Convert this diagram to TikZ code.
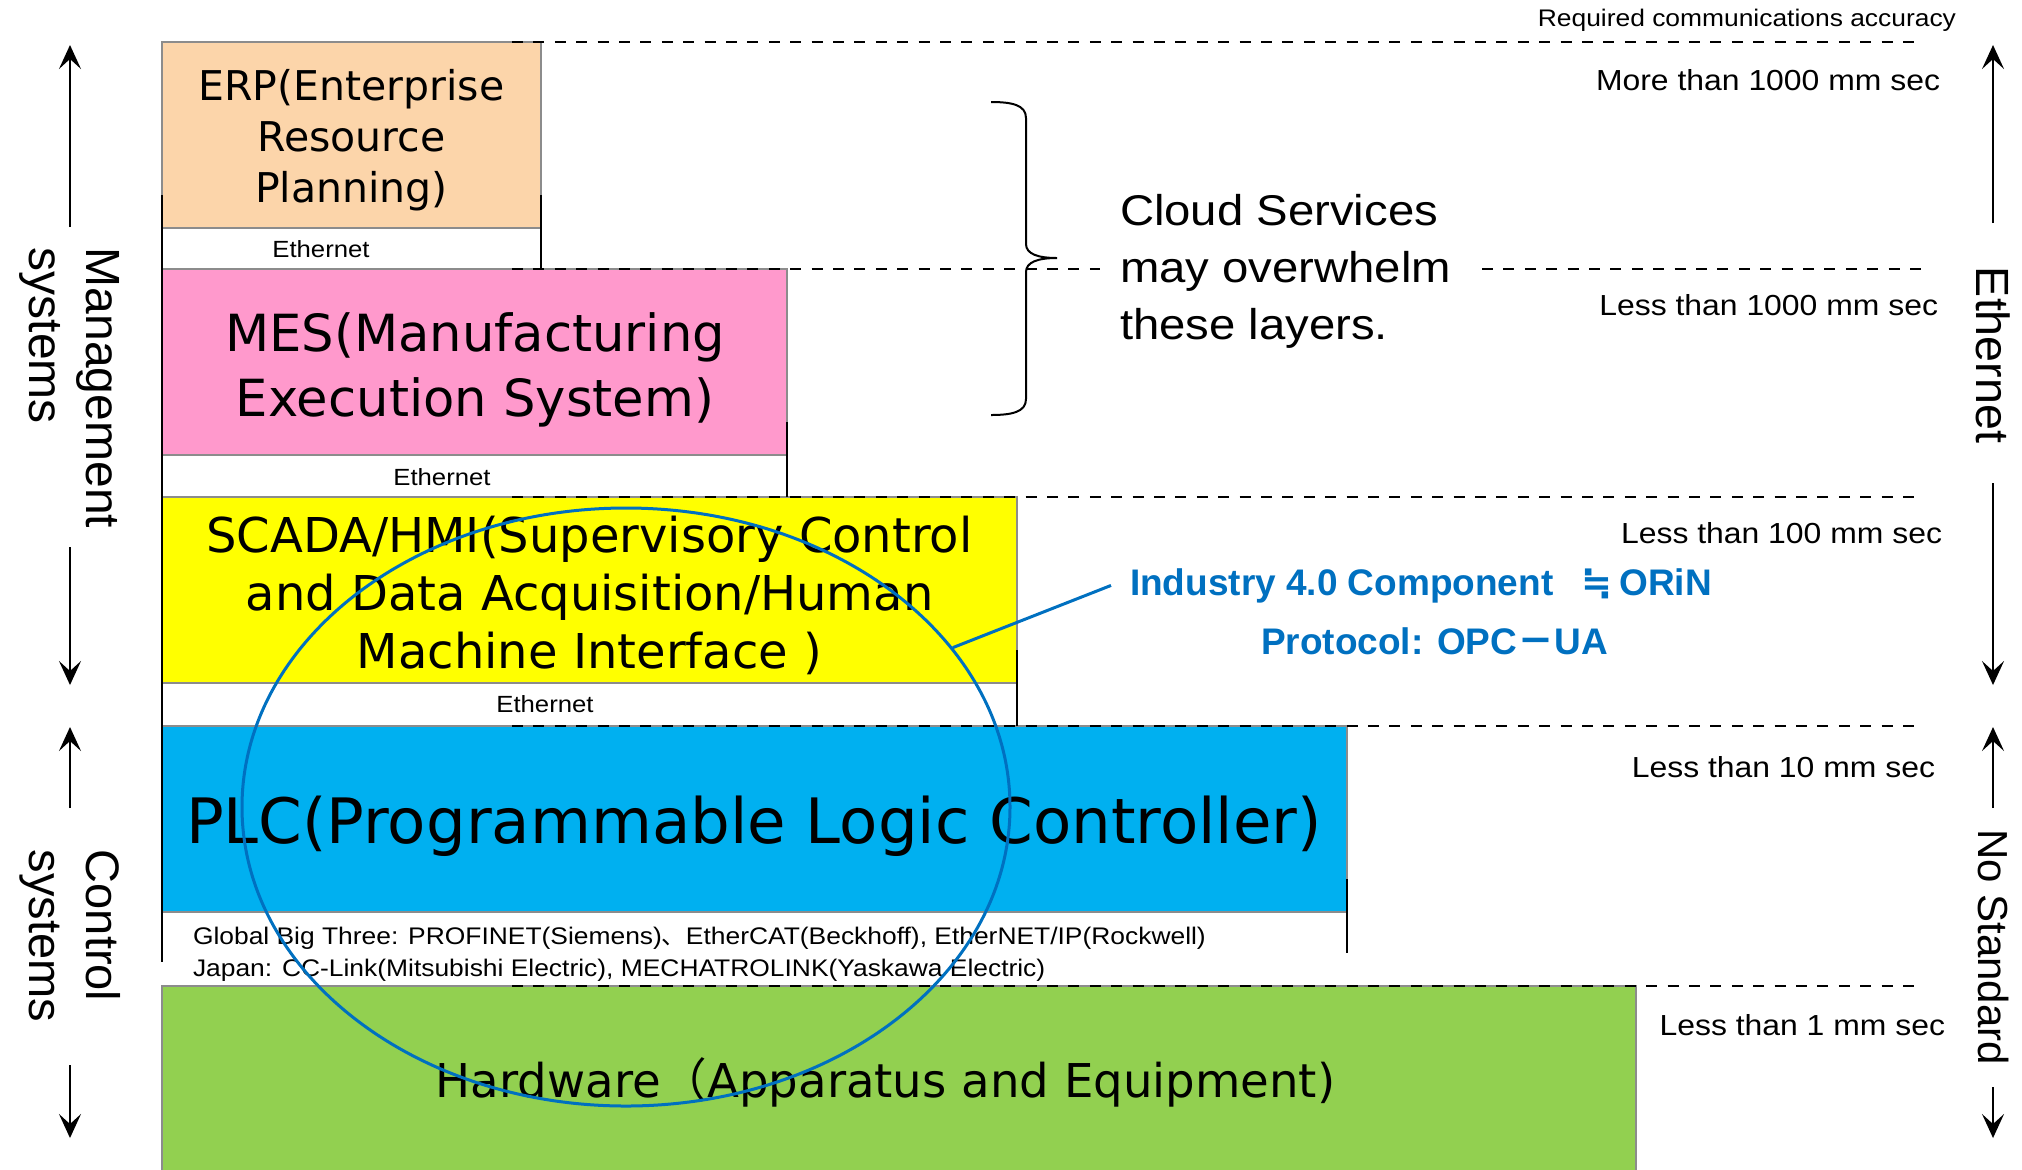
\documentclass[tikz,border=0pt]{standalone}
\usepackage{fontspec}
\setmainfont{Liberation Sans}
\newfontfamily\boxfont{DejaVu Sans}
\newfontfamily\labfont[FakeStretch=1.1]{Liberation Sans}
\newfontfamily\cjk{Noto Sans CJK JP}
\usetikzlibrary{arrows.meta,shapes.geometric}

\definecolor{erpc}{RGB}{252,213,170}
\definecolor{mesc}{RGB}{255,153,204}
\definecolor{scadac}{RGB}{255,255,0}
\definecolor{plcc}{RGB}{0,176,240}
\definecolor{hwc}{RGB}{146,208,80}
\definecolor{edgegray}{RGB}{140,140,140}
\definecolor{orinblue}{RGB}{0,112,192}

\newcommand{\fs}[2]{\fontsize{#1}{#2}\selectfont}

\tikzset{
  layerbox/.style={draw=edgegray, line width=1pt},
  framepart/.style={draw=black, line width=1pt},
  guide/.style={draw=black, line width=1pt, dash pattern=on 5.5pt off 5.2pt},
  axisarrow/.style={draw=black, line width=1pt, -{Stealth[length=12pt,width=11pt,inset=5pt]}},
  txt/.style={inner sep=0pt, outer sep=0pt},
  boxlabel/.style={txt, align=center},
  sidetext/.style={txt, rotate=-90, align=left},
  ratelabel/.style={txt, anchor=base east, font=\labfont\fs{14.5pt}{17pt}},
  netlabel/.style={txt, anchor=base, font=\labfont\fs{11.7pt}{14pt}},
  buslabel/.style={txt, anchor=base west, font=\labfont\fs{12pt}{14pt}},
  bluetext/.style={txt, anchor=base west, text=orinblue, font=\bfseries\fs{18.5pt}{22pt}},
}

\begin{document}
\begin{tikzpicture}[x=0.5pt, y=-0.5pt]
\useasboundingbox (0,0) rectangle (2022,1169);

% ---- layers of the automation pyramid ----
\path[layerbox, fill=erpc]   (162,42)  rectangle (541,228);
\path[layerbox, fill=mesc]   (162,269) rectangle (787,455);
\path[layerbox, fill=scadac] (162,497) rectangle (1017,683);
\path[layerbox, fill=plcc]   (162,726) rectangle (1347,912);
\path[layerbox, fill=hwc]    (162,986) rectangle (1636,1190);

% ---- table frame pieces around the network bands ----
\draw[framepart] (162,195)  -- (162,962);
\draw[framepart] (541,195)  -- (541,269);
\draw[framepart] (787,422)  -- (787,497);
\draw[framepart] (1017,650) -- (1017,726);
\draw[framepart] (1347,879) -- (1347,953);

% ---- dashed level boundaries ----
\draw[guide] (512,42)  -- (1922,42);
\draw[guide] (512,269) -- (1100,269);
\draw[guide] (1482,269) -- (1922,269);
\draw[guide] (512,497) -- (1922,497);
\draw[guide] (512,726) -- (1922,726);
\draw[guide] (512,986) -- (1922,986);

% ---- layer names ----
\node[boxlabel, font=\boxfont\fs{20.5pt}{25.5pt}] (erp) at (351.5,139.7)
  {ERP(Enterprise\\Resource\\Planning)};
\node[boxlabel, font=\boxfont\fs{25.6pt}{32.5pt}] (mes) at (475,370)
  {MES(Manufacturing\\Execution System)};
\node[boxlabel, font=\boxfont\fs{24pt}{29pt}] (scada) at (589.5,595)
  {SCADA/HMI(Supervisory Control\\and Data Acquisition/Human\\Machine Interface )};
\node[txt, anchor=base, font=\boxfont\fs{31.3pt}{37pt}] (plc) at (754,843)
  {PLC(Programmable Logic Controller)};
\node[txt, anchor=base, font=\boxfont\fs{23.3pt}{28pt}] (hw) at (885.5,1097)
  {Hardware{\cjk （}Apparatus and Equipment)};

% ---- network bands ----
\node[netlabel] (net1) at (321,257) {Ethernet};
\node[netlabel] (net2) at (442,485) {Ethernet};
\node[netlabel] (net3) at (545,712) {Ethernet};
\node[buslabel] (bus1) at (193,944)
  {Global Big Three: PROFINET(Siemens){\cjk 、}EtherCAT(Beckhoff), EtherNET/IP(Rockwell)};
\node[buslabel] (bus2) at (193,976)
  {Japan: CC-Link(Mitsubishi Electric), MECHATROLINK(Yaskawa Electric)};

% ---- response time column ----
\node[txt, anchor=base east, font=\labfont\fs{12pt}{14pt}] (req) at (1956,26)
  {Required communications accuracy};
\node[ratelabel] (r1) at (1940,90)   {More than 1000 mm sec};
\node[ratelabel] (r2) at (1938,315)  {Less than 1000 mm sec};
\node[ratelabel] (r3) at (1942,543)  {Less than 100 mm sec};
\node[ratelabel] (r4) at (1935,777)  {Less than 10 mm sec};
\node[ratelabel] (r5) at (1945,1035) {Less than 1 mm sec};

% ---- cloud note with its brace ----
\node[txt, anchor=north west, align=left, font=\labfont\fs{21.5pt}{28.5pt}] (cloud) at (1120,194)
  {Cloud Services\\may overwhelm\\these layers.};
\draw[line width=1pt] (991,102) .. controls (1012,102) and (1026,105) .. (1026,118)
  -- (1026,244) .. controls (1026,254) and (1038,258) .. (1057,258)
  .. controls (1038,258) and (1026,262) .. (1026,272)
  -- (1026,399) .. controls (1026,412) and (1012,415) .. (991,415);

% ---- side axes ----
\node[sidetext, font=\fs{24pt}{28.5pt}] (mgmt) at (70,388) {Management\\systems};
\node[sidetext, font=\fs{23.5pt}{28.5pt}] (ctrl) at (70,936) {Control\\systems};
\node[sidetext, font=\fs{23.3pt}{28pt}] (eth) at (1993,355) {Ethernet};
\node[sidetext, font=\fs{21pt}{25pt}] (nostd) at (1993,947) {No Standard};

\coordinate (lu0) at (70,227);  \coordinate (lu1) at (70,45);
\coordinate (ld0) at (70,547);  \coordinate (ld1) at (70,685);
\coordinate (cu0) at (70,808);  \coordinate (cu1) at (70,727);
\coordinate (cd0) at (70,1065); \coordinate (cd1) at (70,1138);
\coordinate (eu0) at (1993,223);  \coordinate (eu1) at (1993,45);
\coordinate (ed0) at (1993,483);  \coordinate (ed1) at (1993,685);
\coordinate (nu0) at (1993,808);  \coordinate (nu1) at (1993,727);
\coordinate (nd0) at (1993,1087); \coordinate (nd1) at (1993,1138);
\draw[axisarrow] (lu0) -- (lu1);
\draw[axisarrow] (ld0) -- (ld1);
\draw[axisarrow] (cu0) -- (cu1);
\draw[axisarrow] (cd0) -- (cd1);
\draw[axisarrow] (eu0) -- (eu1);
\draw[axisarrow] (ed0) -- (ed1);
\draw[axisarrow] (nu0) -- (nu1);
\draw[axisarrow] (nd0) -- (nd1);

% ---- Industry 4.0 component callout ----
\node[bluetext, inner xsep=9.5pt] (ind) at (1111,595)
  {Industry 4.0 Component\hspace{14pt}{\boxfont\bfseries ≒}\hspace{3.5pt}ORiN};
\node[bluetext] (proto) at (1261,654) {Protocol: OPC{\cjk\bfseries －}UA};
\node[ellipse, draw=orinblue, line width=1.5pt, minimum width=384pt, minimum height=299pt,
      inner sep=0pt] (ring) at (626,807) {};
\draw[draw=orinblue, line width=1.5pt] (ring.26.3) -- (ind.west);
\end{tikzpicture}
\end{document}
